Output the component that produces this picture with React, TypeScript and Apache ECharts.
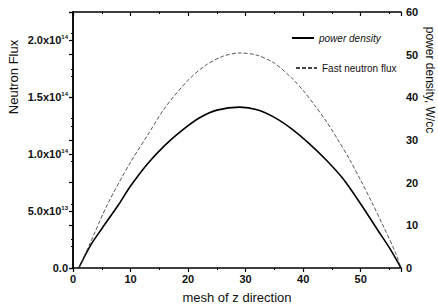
import React, { useEffect, useRef } from "react";
import * as echarts from "echarts";

// mesh positions and values
const meshPower = [1, 3, 5, 8, 10, 13, 16, 19, 22, 25, 29, 32, 35, 38, 41, 44, 47, 50, 53, 55, 57];
const powerDensity = [0, 5.2, 9.2, 15, 19.2, 24.5, 28.8, 32.3, 35.2, 37, 37.7, 37.1, 35.3, 32.6, 29.2, 25.3, 20.8, 15, 8.8, 4.7, 0];

const meshFlux = [1, 3, 6, 10, 13, 16, 20, 23, 26, 29, 32, 35, 38, 40, 42, 44, 46, 48, 50, 52, 54, 56, 57];
const neutronFlux = [0, 0.22e14, 0.56e14, 0.93e14, 1.17e14, 1.41e14, 1.65e14, 1.78e14, 1.86e14, 1.89e14, 1.87e14, 1.8e14, 1.67e14, 1.56e14, 1.43e14, 1.29e14, 1.13e14, 0.96e14, 0.77e14, 0.57e14, 0.36e14, 0.14e14, 0];

const leftTickLabels: Record<string, string> = {
  "0": "0.0",
  "50000000000000": "{a|5.0x10}{b|13}",
  "100000000000000": "{a|1.0x10}{b|14}",
  "150000000000000": "{a|1.5x10}{b|14}",
  "200000000000000": "{a|2.0x10}{b|14}",
};

const seriesNames = ["power density", "Fast neutron flux"];
const axisTitles = { x: "mesh of z direction", left: "Neutron Flux", right: "power density, W/cc" };

const FONT = "Liberation Sans, Arial, sans-serif";

export default function App() {
  const ref = useRef<HTMLDivElement>(null);
  useEffect(() => {
    if (!ref.current) return;
    const chart = echarts.init(ref.current, null, { renderer: "svg" });
    const lbl = { fontFamily: FONT, fontSize: 11, fontWeight: "bold" as const, color: "#111" };
    chart.setOption({
      animation: false,
      backgroundColor: "#fff",
      grid: { left: 73, right: 37, top: 12, bottom: 39 },
      legend: [
        {
          data: [seriesNames[0]],
          left: 286,
          top: 28,
          itemWidth: 22,
          itemHeight: 12,
          itemStyle: { opacity: 0 },
          textStyle: { fontFamily: FONT, fontSize: 10, fontStyle: "italic", color: "#111" },
        },
        {
          data: [seriesNames[1]],
          left: 290,
          top: 58,
          itemWidth: 21,
          itemHeight: 12,
          itemStyle: { opacity: 0 },
          textStyle: { fontFamily: FONT, fontSize: 10, color: "#111" },
        },
      ],
      xAxis: [
        {
          type: "value",
          min: 0,
          max: 57,
          interval: 10,
          axisLine: { show: true, lineStyle: { color: "#000", width: 1.5 } },
          axisTick: { show: true, inside: false, length: 4, lineStyle: { color: "#000", width: 1.2 } },
          minorTick: { show: true, splitNumber: 2, length: 2, lineStyle: { color: "#000" } },
          splitLine: { show: false },
          axisLabel: { ...lbl, margin: 5, showMaxLabel: false },
        },
        {
          type: "value",
          position: "top",
          min: 0,
          max: 57,
          interval: 10,
          axisLine: { show: true, onZero: false, lineStyle: { color: "#000", width: 1.5 } },
          axisTick: { show: true, inside: true, length: 4, lineStyle: { color: "#000", width: 1.2 } },
          minorTick: { show: true, splitNumber: 2, length: 2, lineStyle: { color: "#000" } },
          splitLine: { show: false },
          axisLabel: { show: false },
        },
      ],
      yAxis: [
        {
          type: "value",
          min: 0,
          max: 2.25e14,
          interval: 5e13,
          axisLine: { show: true, lineStyle: { color: "#000", width: 1.5 } },
          axisTick: { show: true, inside: false, length: 4, lineStyle: { color: "#000", width: 1.2 } },
          minorTick: { show: true, splitNumber: 2, length: 2, lineStyle: { color: "#000" } },
          splitLine: { show: false },
          axisLabel: {
            ...lbl,
            margin: 5,
            showMaxLabel: false,
            formatter: (v: number) => leftTickLabels[String(Math.round(v))] ?? "",
            rich: {
              a: { ...lbl },
              b: { ...lbl, fontSize: 6, verticalAlign: "top", padding: [0, 0, 7, 0] },
            },
          },
        },
        {
          type: "value",
          position: "right",
          min: 0,
          max: 60,
          interval: 10,
          axisLine: { show: true, lineStyle: { color: "#000", width: 1.5 } },
          axisTick: { show: true, inside: true, length: 4, lineStyle: { color: "#000", width: 1.2 } },
          minorTick: { show: true, splitNumber: 2, length: 2, lineStyle: { color: "#000" } },
          splitLine: { show: false },
          axisLabel: { ...lbl, margin: 5 },
        },
      ],
      series: [
        {
          name: seriesNames[0],
          type: "line",
          yAxisIndex: 1,
          smooth: 0.3,
          symbol: "none",
          data: meshPower.map((m, i) => [m, powerDensity[i]]),
          lineStyle: { color: "#000", width: 1.6, type: "solid" },
          itemStyle: { color: "#000" },
        },
        {
          name: seriesNames[1],
          type: "line",
          yAxisIndex: 0,
          smooth: 0.3,
          symbol: "none",
          data: meshFlux.map((m, i) => [m, neutronFlux[i]]),
          lineStyle: { color: "#444", width: 0.9, type: [4, 2] },
          itemStyle: { color: "#444" },
        },
      ],
      graphic: [
        {
          type: "text",
          x: 237,
          y: 297,
          style: { text: axisTitles.x, font: `13px ${FONT}`, fill: "#111", align: "center", verticalAlign: "middle" },
        },
        {
          type: "text",
          x: 13,
          y: 77,
          rotation: Math.PI / 2,
          style: { text: axisTitles.left, font: `13px ${FONT}`, fill: "#111", align: "center", verticalAlign: "middle" },
        },
        {
          type: "text",
          x: 430,
          y: 80,
          rotation: -Math.PI / 2,
          style: { text: axisTitles.right, font: `12px ${FONT}`, fill: "#111", align: "center", verticalAlign: "middle" },
        },
      ],
    });
    return () => chart.dispose();
  }, []);
  return <div ref={ref} style={{ width: 438, height: 307, position: "absolute", left: 0, top: 0 }} />;
}
